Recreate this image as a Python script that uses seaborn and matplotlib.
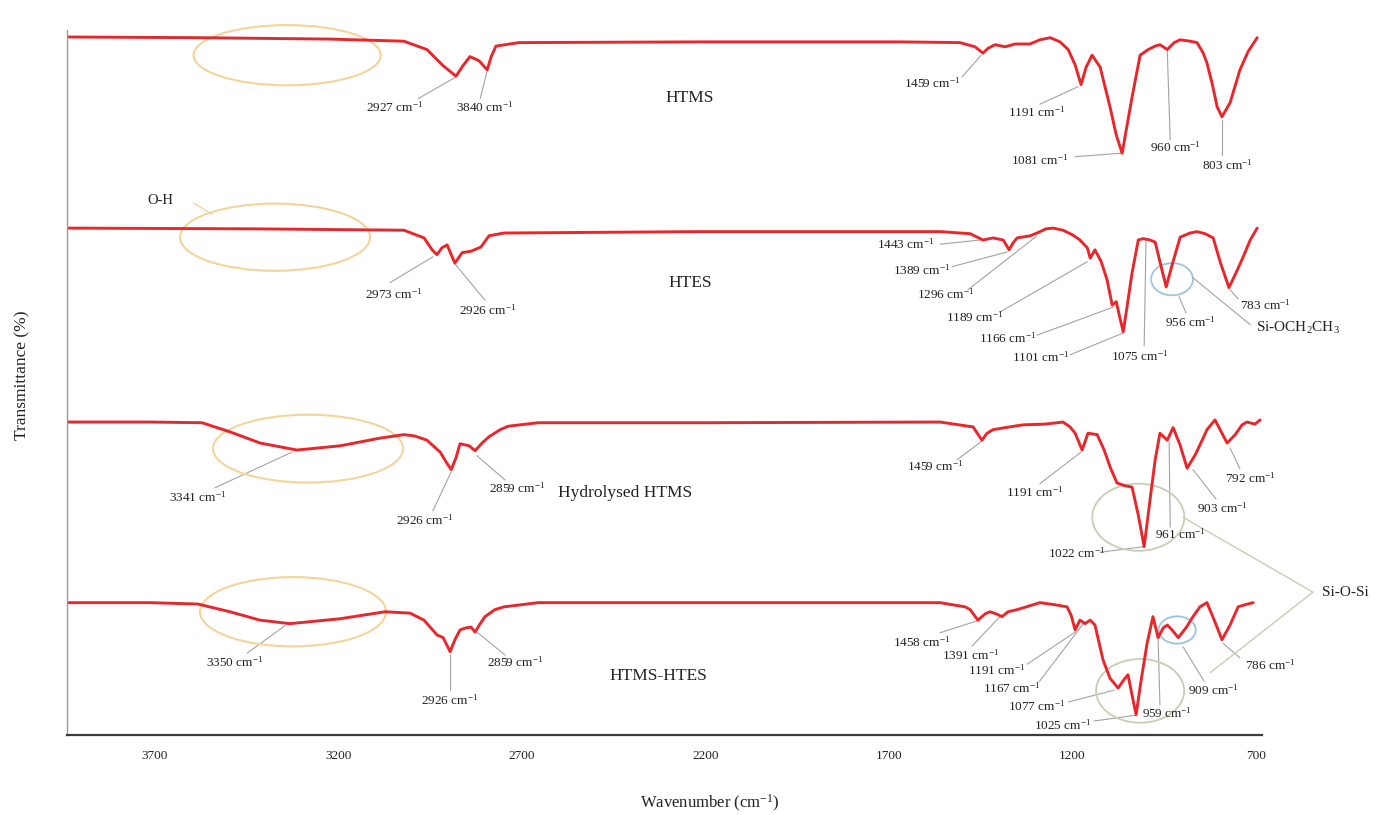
import matplotlib
matplotlib.use("Agg")
import matplotlib.pyplot as plt
from matplotlib.patches import Ellipse
import numpy as np
import pandas as pd
import seaborn as sns

# ---------------------------------------------------------------- spectra
# wavenumber (cm-1) and stacked transmittance values of each spectrum
htms_wn = [3940, 3577, 3223, 3022, 2959, 2915, 2880, 2861, 2842, 2817, 2795, 2784,
           2771, 2708, 2215, 1670, 1507, 1466, 1444, 1430, 1411, 1384, 1357, 1316,
           1289, 1261, 1234, 1212, 1193, 1177, 1163, 1147, 1125, 1098, 1081, 1065,
           1038, 1016, 994, 975, 962, 942, 923, 907, 880, 861, 844, 834, 820, 806,
           793, 771, 744, 722, 697]
htms_t = [99.7, 99.6, 99.4, 99.1, 97.9, 95.6, 94.1, 95.6, 96.9, 96.3, 95.0, 96.9,
          98.4, 98.9, 99.0, 99.0, 98.9, 98.3, 97.4, 98.1, 98.6, 98.3, 98.7, 98.7,
          99.3, 99.6, 99.0, 97.9, 95.7, 92.9, 95.4, 97.1, 95.4, 89.7, 85.7, 83.1,
          91.1, 97.1, 97.9, 98.4, 98.6, 97.9, 98.9, 99.3, 99.1, 98.9, 97.4, 96.0,
          93.1, 89.7, 88.3, 90.3, 95.0, 97.6, 99.6]

htes_wn = [3940, 3441, 3022, 2967, 2945, 2932, 2918, 2904, 2893, 2883, 2863, 2839,
           2812, 2790, 2749, 2215, 1561, 1479, 1444, 1417, 1389, 1373, 1362, 1351,
           1316, 1297, 1272, 1253, 1226, 1199, 1180, 1160, 1152, 1139, 1122, 1106,
           1092, 1081, 1073, 1062, 1051, 1038, 1021, 1008, 989, 975, 962, 945, 929,
           907, 880, 861, 839, 817, 798, 774, 754, 735, 716, 697]
htes_t = [72.4, 72.3, 72.1, 71.0, 69.3, 68.6, 69.6, 70.0, 68.6, 67.4, 68.9, 69.1,
          69.7, 71.3, 71.7, 71.9, 71.9, 71.6, 70.7, 71.0, 70.7, 69.3, 70.3, 71.0,
          71.3, 71.7, 72.3, 72.4, 72.1, 71.4, 70.7, 69.6, 68.1, 69.3, 67.6, 65.0,
          61.4, 61.9, 60.0, 57.6, 61.4, 66.0, 70.7, 70.9, 70.7, 70.4, 67.6, 64.0, 67.1,
          71.1, 71.7, 71.9, 71.6, 71.0, 67.6, 63.9, 66.1, 68.3, 70.7, 72.4]

hyd_wn = [3940, 3714, 3572, 3496, 3414, 3313, 3196, 3087, 3022, 2992, 2959, 2923,
          2907, 2893, 2880, 2869, 2844, 2828, 2809, 2790, 2760, 2738, 2656, 2215,
          1561, 1471, 1447, 1433, 1417, 1384, 1335, 1275, 1226, 1207, 1193, 1174,
          1158, 1133, 1114, 1098, 1079, 1057, 1038, 1021, 1005, 989, 975, 962, 942,
          926, 907, 888, 866, 847, 834, 812, 798, 779, 757, 738, 725, 703, 689]
hyd_t = [44.7, 44.7, 44.6, 43.3, 41.7, 40.7, 41.3, 42.4, 42.9, 42.7, 42.1, 40.4,
         39.0, 37.9, 39.6, 41.6, 41.3, 40.6, 41.7, 42.6, 43.6, 44.1, 44.6, 44.6,
         44.7, 44.0, 42.1, 43.1, 43.6, 43.9, 44.3, 44.4, 44.7, 44.0, 43.1, 40.7,
         43.1, 42.9, 40.7, 38.3, 36.0, 35.6, 35.4, 31.4, 26.9, 33.6, 39.3, 43.1, 42.1,
         43.9, 41.4, 38.1, 40.0, 42.1, 43.6, 45.0, 43.6, 41.7, 42.9, 44.3, 44.7, 44.4, 45.0]

mix_wn = [3940, 3714, 3583, 3496, 3414, 3332, 3196, 3073, 3005, 2967, 2932, 2915,
          2896, 2883, 2869, 2853, 2839, 2828, 2814, 2801, 2774, 2749, 2656, 2215,
          1561, 1493, 1479, 1458, 1438, 1425, 1408, 1392, 1376, 1351, 1289, 1248,
          1215, 1204, 1193, 1180, 1166, 1152, 1139, 1117, 1098, 1076, 1060, 1049,
          1038, 1027, 1013, 997, 981, 967, 953, 942, 929, 912, 891, 872, 853, 834,
          814, 793, 771, 749, 730, 708]
mix_t = [18.9, 18.9, 18.7, 17.6, 16.4, 15.9, 16.6, 17.6, 17.4, 16.4, 14.3, 13.9,
         11.9, 13.6, 15.0, 15.3, 15.4, 14.7, 15.9, 16.9, 17.9, 18.3, 18.9, 18.9,
         18.9, 18.3, 17.9, 16.4, 17.3, 17.6, 17.3, 16.9, 17.6, 17.9, 18.9, 18.6,
         18.3, 17.1, 15.0, 16.4, 15.9, 16.4, 15.7, 10.7, 8.1, 6.7, 7.9, 8.6,
         5.7, 2.9, 7.9, 13.1, 16.9, 13.9, 15.3, 15.7, 15.0, 13.9, 15.3, 16.9, 18.3, 18.9,
         16.4, 13.6, 15.7, 18.3, 18.6, 18.9]

sample_names = ["HTMS", "HTES", "Hydrolysed HTMS", "HTMS-HTES"]
x_ticks = [3700, 3200, 2700, 2200, 1700, 1200, 700]

# peak labels: (text, text x, text y, leader start x, y, leader end x, y)
peak_labels = [
    # HTMS
    ("2927", 3046, 89.6, 2983, 90.9, 2883, 93.9),
    ("3840", 2801, 89.6, 2814, 90.9, 2795, 94.9),
    ("1459", 1583, 93.1, 1501, 94.0, 1449, 97.1),
    ("1191", 1297, 88.9, 1289, 90.1, 1185, 92.6),
    ("1081", 1289, 82.1, 1193, 82.6, 1067, 83.1),
    ("960", 921, 84.0, 934, 85.0, 942, 97.7),
    ("803", 779, 81.4, 793, 82.9, 793, 87.9),
    # HTES
    ("2973", 3051, 63.0, 3060, 64.6, 2943, 68.3),
    ("2926", 2795, 60.7, 2801, 62.1, 2883, 67.3),
    ("1443", 1656, 70.1, 1561, 70.1, 1452, 70.7),
    ("1389", 1610, 66.4, 1528, 66.9, 1378, 69.0),
    ("1296", 1547, 62.9, 1485, 63.6, 1297, 71.3),
    ("1189", 1466, 59.6, 1398, 60.4, 1160, 67.6),
    ("1166", 1376, 56.6, 1297, 57.1, 1090, 61.1),
    ("1101", 1286, 53.9, 1207, 54.3, 1063, 57.4),
    ("1075", 1016, 54.1, 1005, 55.6, 1000, 70.7),
    ("956", 880, 59.0, 891, 60.3, 910, 62.6),
    ("783", 675, 61.4, 749, 62.3, 771, 63.6),
    # Hydrolysed HTMS
    ("3341", 3583, 34.0, 3537, 35.3, 3327, 40.4),
    ("2926", 2964, 30.7, 2943, 32.0, 2893, 37.6),
    ("2859", 2714, 35.3, 2746, 36.4, 2823, 39.9),
    ("1459", 1575, 38.4, 1515, 39.3, 1449, 41.9),
    ("1191", 1302, 34.6, 1289, 35.9, 1177, 40.4),
    ("1022", 1188, 26.0, 1125, 26.1, 1006, 26.9),
    ("961", 907, 28.6, 934, 29.7, 937, 41.9),
    ("903", 793, 32.4, 809, 33.7, 872, 37.9),
    ("792", 716, 36.7, 744, 38.0, 771, 41.0),
    # HTMS-HTES
    ("3350", 3482, 10.4, 3449, 11.7, 3346, 15.6),
    ("2926", 2896, 5.0, 2896, 6.4, 2896, 11.6),
    ("2859", 2719, 10.4, 2746, 11.4, 2823, 14.7),
    ("1458", 1610, 13.3, 1561, 14.6, 1460, 16.3),
    ("1391", 1479, 11.4, 1474, 12.7, 1398, 16.9),
    ("1191", 1408, 9.3, 1324, 10.1, 1193, 14.7),
    ("1167", 1365, 6.7, 1291, 7.6, 1171, 15.9),
    ("1077", 1297, 4.1, 1212, 4.7, 1087, 6.4),
    ("1025", 1226, 1.4, 1141, 2.0, 1030, 2.8),
    ("959", 942, 3.1, 962, 4.3, 967, 13.6),
    ("909", 817, 6.4, 842, 7.7, 899, 12.6),
    ("786", 662, 10.0, 744, 11.0, 790, 13.1),
]

# ---------------------------------------------------------------- style
sns.set_theme(style="white")
plt.rcParams["font.family"] = ["Liberation Serif", "DejaVu Serif"]
plt.rcParams["mathtext.fontset"] = "custom"
plt.rcParams["mathtext.rm"] = "Liberation Serif"
plt.rcParams["mathtext.it"] = "Liberation Serif:italic"
plt.rcParams["mathtext.default"] = "rm"

RED = "#e8272c"
LEAD = "#a3a3a3"
TXT = "#222222"

fig = plt.figure(figsize=(13.75, 8.15), dpi=100)
ax = fig.add_axes([0.0487, 0.0982, 0.8691, 0.8650])

spectra = [(htms_wn, htms_t), (htes_wn, htes_t), (hyd_wn, hyd_t), (mix_wn, mix_t)]
for name, (wn, tr) in zip(sample_names, spectra):
    df = pd.DataFrame({"wavenumber": wn, "transmittance": tr})
    sns.lineplot(data=df, x="wavenumber", y="transmittance", color=RED,
                 linewidth=2.1, sort=False, estimator=None, ax=ax,
                 solid_joinstyle="round", solid_capstyle="round")

ax.set_xlim(3940, 684)
ax.set_ylim(0, 100.7)
ax.set_xticks(x_ticks)
ax.set_xticklabels([str(t) for t in x_ticks], fontsize=9.5, color=TXT)
ax.set_yticks([])
ax.tick_params(axis="x", length=0, pad=11)
ax.set_xlabel("")
ax.set_ylabel("")
for side in ("top", "right"):
    ax.spines[side].set_visible(False)
ax.spines["left"].set_color("#9a9a9a")
ax.spines["left"].set_linewidth(1.0)
ax.spines["bottom"].set_color("#3c3c3c")
ax.spines["bottom"].set_linewidth(1.6)

# sample names
name_pos = [(2242, 91.0), (2242, 64.6), (2419, 34.6), (2329, 8.4)]
for name, (x, y) in zip(sample_names, name_pos):
    ax.text(x, y, name, fontsize=12.5, ha="center", va="center", color=TXT)

# peak labels with leader lines
for txt, tx, ty, x0, y0, x1, y1 in peak_labels:
    ax.plot([x0, x1], [y0, y1], color=LEAD, lw=0.8, zorder=1)
    ax.text(tx, ty, txt + " cm$^{-1}$", fontsize=9.5, ha="center", va="center",
            color=TXT, clip_on=False)

# highlighted regions
def ring(x, y, w, h, color, lw=1.3):
    ax.add_patch(Ellipse((x, y), w, h, fill=False, edgecolor=color, lw=lw,
                         zorder=1, clip_on=False))

OH_COL = "#f4d49a"
for (x, y, w, h) in [(3340, 97.1, 510, 8.6), (3373, 71.1, 518, 9.6),
                     (3283, 40.9, 518, 9.7), (3324, 17.6, 507, 9.9)]:
    ring(x, y, w, h, OH_COL, lw=1.5)

BLUE = "#9cc5df"
ring(929, 65.1, 114, 4.6, BLUE)
ring(915, 15.0, 101, 3.9, BLUE)

GREEN = "#c6cfb0"
ring(1021, 31.1, 251, 9.6, GREEN)
ring(1016, 6.3, 240, 9.1, GREEN)

# group labels
ax.text(3686, 76.4, "O-H", fontsize=10.5, ha="center", va="center", color=TXT)
ax.plot([3596, 3545], [76.0, 74.4], color=OH_COL, lw=1.0)

ax.text(586, 58.1, "Si-OCH$_2$CH$_3$", fontsize=11, ha="center", va="center",
        color=TXT, clip_on=False)
ax.plot([874, 716], [65.4, 58.6], color=LEAD, lw=0.8, clip_on=False)

ax.text(458, 20.4, "Si-O-Si", fontsize=11, ha="center", va="center",
        color=TXT, clip_on=False)
ax.plot([545, 899], [20.4, 31.1], color=GREEN, lw=1.0, clip_on=False)
ax.plot([545, 825], [20.4, 8.9], color=GREEN, lw=1.0, clip_on=False)

# axis titles
fig.text(710 / 1375, 1 - 803 / 815, "Wavenumber (cm$^{-1}$)", fontsize=12,
         ha="center", va="center", color=TXT)
fig.text(22 / 1375, 1 - 375 / 815, "Transmittance (%)", fontsize=12.5,
         ha="center", va="center", rotation=90, color=TXT)

fig.savefig("out.png", dpi=100, facecolor="white")
